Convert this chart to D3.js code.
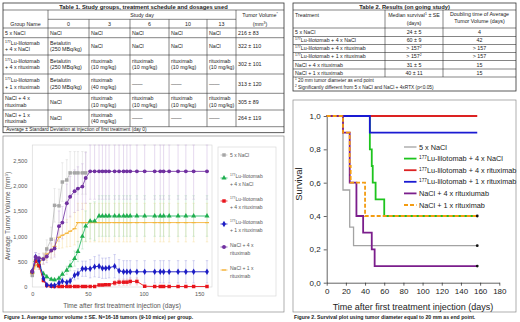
<!DOCTYPE html>
<html>
<head>
<meta charset="utf-8">
<script src="https://cdn.jsdelivr.net/npm/d3@7"></script>
<style>
  body { margin: 0; background: #fff; }
  svg { display: block; }
  text { font-family: "Liberation Sans", Arial, sans-serif; }
</style>
</head>
<body>
<div id="chart"></div>
<script>
// ---- Table 1: groups, schedule, day-0 volume ----
const studyDays = ["0", "3", "6", "10", "13"];
const t1Groups = ["5 x NaCl", "[177]Lu-lilotomab|+ 4 x NaCl", "[177]Lu-lilotomab|+ 4 x rituximab",
  "[177]Lu-lilotomab|+ 1 x rituximab", "NaCl + 4 x|rituximab", "NaCl + 1 x|rituximab"];
const t1Schedule = [
  ["NaCl", "NaCl", "NaCl", "NaCl", "NaCl"],
  ["Betalutin|(250 MBq/kg)", "NaCl", "NaCl", "NaCl", "NaCl"],
  ["Betalutin|(250 MBq/kg)", "rituximab|(10 mg/kg)", "rituximab|(10 mg/kg)", "rituximab|(10 mg/kg)", "rituximab|(10 mg/kg)"],
  ["Betalutin|(250 MBq/kg)", "rituximab|(40 mg/kg)", "——", "——", "——"],
  ["NaCl", "rituximab|(10 mg/kg)", "rituximab|(10 mg/kg)", "rituximab|(10 mg/kg)", "rituximab|(10 mg/kg)"],
  ["NaCl", "rituximab|(40 mg/kg)", "——", "——", "——"]
];
const t1Volume = ["216 ± 83", "322 ± 110", "302 ± 101", "313 ± 120", "305 ± 89", "264 ± 119"];

// ---- Table 2: results ----
const t2Treatment = ["5 x NaCl", "[177]Lu-lilotomab + 4 x NaCl", "[177]Lu-lilotomab  + 4 x rituximab",
  "[177]Lu-lilotomab  + 1 x rituximab", "NaCl + 4 x rituximab", "NaCl + 1 x rituximab"];
const t2Median = ["24 ± 5", "60 ± 9", "> 157[2]", "> 157[2]", "31 ± 5", "40 ± 11"];
const t2Doubling = ["4", "42", "> 157", "> 157", "15", "15"];

// ---- Figure 1: average tumour volume ± SE ----
const volDays = [0,3,6,10,13,17,20,24,27,31,34,38,41,45,48,52,56,60,63,66,69,74,78,82,85,88,94,101,110,115,118,123,131,138,145,157];
const volNaCl   = [230,520,470,560,750,940,1610,1600,2070,2110,2250,2250,2250,2250,2250];
const seNaCl    = [40,90,80,110,180,240,330,330,380,400,420,420,420,420,420];
const volLuNaCl = [300,520,420,260,200,150,140,170,250,330,420,560,700,1000,1200,1300,1300,1400,1400,1400,1400,1400,1400,1400,1400,1400,1400,1400,1400,1400,1400,1400,1400,1400,1400,1400];
const seLuNaCl  = [40,80,70,50,40,30,30,40,60,80,100,150,200,250,300,350,380,400,400,400,400,400,400,400,400,400,400,400,400,400,400,400,400,400,400,400];
const volLuR4   = [302,510,420,130,30,15,10,10,10,10,10,10,10,10,10,10,10,40,40,45,45,80,95,95,95,110,110,15,10,10,10,10,10,10,10,10];
const seLuR4    = [40,80,70,40,10,5,5,5,5,5,5,5,5,5,5,5,5,20,20,20,20,50,60,60,60,70,70,5,5,5,5,5,5,5,5,5];
const volLuR1   = [313,590,520,170,40,30,30,80,115,90,120,230,260,360,360,360,400,410,370,370,380,410,320,300,300,300,300,300,300,300,300,300,300,300,300,300];
const seLuR1    = [40,90,80,50,20,20,20,40,50,50,60,90,100,150,150,180,200,220,200,200,200,230,220,220,220,220,220,220,220,220,220,220,220,220,220,220];
const volNaClR4 = [305,590,570,550,600,720,760,1200,1270,1650,1780,1890,1940,1980,2150,2280,2280,2280,2280,2280,2280,2280,2280,2280,2280,2280,2280,2280,2280,2280,2280,2280,2280,2280,2280,2280];
const seNaClR4  = [40,90,90,100,120,150,170,300,320,380,400,420,430,450,500,550,550,550,550,550,550,550,550,550,550,550,550,550,550,550,550,550,550,550,550,550];
const volNaClR1 = [264,430,480,560,650,700,800,980,1020,1060,1100,1150,1270,1270,1270,1270,1270,1270,1270,1270,1270,1270,1270,1270,1270,1270,1270,1270,1270,1270,1270,1270,1270,1270,1270,1270];
const seNaClR1  = [40,80,90,110,130,150,170,220,250,270,300,320,380,380,380,380,380,380,380,380,380,380,380,380,380,380,380,380,380,380,380,380,380,380,380,380];
const volLegend = ["5 x NaCl", "[177]Lu-lilotomab|+ 4 x NaCl", "[177]Lu-lilotomab|+ 4 x rituximab",
  "[177]Lu-lilotomab|+ 1 x rituximab", "NaCl + 4 x|rituximab", "NaCl + 1 x|rituximab"];
const volTicksY = [0, 500, 1000, 1500, 2000, 2500];
const volTicksX = [0, 50, 100, 150];

// ---- Figure 2: survival (Kaplan–Meier steps) ----
const survTNaCl   = [0, 17, 24, 28, 157];          const survNaCl   = [1, 0.556, 0.333, 0.222, 0.222];
const survTLuNaCl = [0, 45, 47, 48, 51, 60, 157];  const survLuNaCl = [1, 0.8, 0.7, 0.6, 0.5, 0.4, 0.4];
const survTLuR4   = [0, 157];                      const survLuR4   = [1, 1];
const survTLuR1   = [0, 45, 157];                  const survLuR1   = [1, 0.9, 0.9];
const survTNaClR4 = [0, 17, 24, 31, 38, 47, 50, 157]; const survNaClR4 = [1, 0.9, 0.6, 0.4, 0.3, 0.2, 0.1, 0.1];
const survTNaClR1 = [0, 17, 24, 25, 40, 157];      const survNaClR1 = [1, 0.9, 0.7, 0.6, 0.4, 0.4];
const survLegend = ["5 x NaCl", "[177]Lu-lilotomab + 4 x NaCl", "[177]Lu-lilotomab  + 4 x rituximab",
  "[177]Lu-lilotomab  + 1 x rituximab", "NaCl + 4 x rituxiumab", "NaCl + 1 x rituximab"];
const survTicksX = [0, 20, 40, 60, 80, 100, 120, 140, 160, 180];
const survTicksY = [0, 0.2, 0.4, 0.6, 0.8, 1.0];

// ---------------------------------------------------------------
const svg = d3.select("#chart").append("svg").attr("width", 520).attr("height", 322);
const INK = "#222";

// "[177]Lu" -> superscript tspan
function rich(t, s) {
  s.split(/(\[[^\]]+\])/).forEach(p => {
    if (!p) return;
    if (p[0] === "[") t.append("tspan").attr("baseline-shift", "super").attr("font-size", "65%").text(p.slice(1, -1));
    else t.append("tspan").text(p);
  });
}
function cellText(g, x, yc, s, o = {}) {
  const size = o.size || 5.3, lines = s.split("|"), lh = o.lh || size * 1.15;
  lines.forEach((ln, i) => {
    const t = g.append("text").attr("x", x)
      .attr("y", yc + (i - (lines.length - 1) / 2) * lh + size * 0.35)
      .attr("font-size", size).attr("text-anchor", o.anchor || "start")
      .attr("fill", o.fill || INK).attr("font-weight", o.weight || null);
    rich(t, ln);
  });
}
function line(g, x1, y1, x2, y2, c = "#333", w = 0.6) {
  g.append("line").attr("x1", x1).attr("y1", y1).attr("x2", x2).attr("y2", y2)
    .attr("stroke", c).attr("stroke-width", w);
}

// ---- Table 1 ----
(function () {
  const g = svg.append("g");
  const cx = [3, 48, 89, 130, 169, 207, 236, 284];
  const ry = [3, 10, 19.3, 28, 37.7, 55, 74, 93.3, 110, 126.7, 132.7];
  g.append("rect").attr("x", cx[0]).attr("y", ry[0]).attr("width", cx[7] - cx[0]).attr("height", ry[10] - ry[0])
    .attr("fill", "none").attr("stroke", "#333").attr("stroke-width", 0.8);
  [1, 3, 4, 5, 6, 7, 8, 9].forEach(i => line(g, cx[0], ry[i], cx[7], ry[i]));
  line(g, cx[1], ry[2], cx[6], ry[2]);
  [1, 6].forEach(i => line(g, cx[i], ry[1], cx[i], ry[9]));
  [2, 3, 4, 5].forEach(i => line(g, cx[i], ry[2], cx[i], ry[9]));

  cellText(g, (cx[0] + cx[7]) / 2, (ry[0] + ry[1]) / 2, "Table 1. Study groups, treatment schedule and dosages used", { anchor: "middle", size: 5.8, weight: "bold" });
  cellText(g, (cx[1] + cx[6]) / 2, (ry[1] + ry[2]) / 2, "Study day", { anchor: "middle" });
  cellText(g, (cx[0] + cx[1]) / 2, (ry[2] + ry[3]) / 2, "Group Name", { anchor: "middle" });
  studyDays.forEach((d, i) => cellText(g, (cx[i + 1] + cx[i + 2]) / 2, (ry[2] + ry[3]) / 2, d, { anchor: "middle" }));
  cellText(g, (cx[6] + cx[7]) / 2, (ry[1] + ry[2]) / 2, "Tumor Volume[*]", { anchor: "middle" });
  cellText(g, (cx[6] + cx[7]) / 2, (ry[2] + ry[3]) / 2, "(mm[3])", { anchor: "middle" });

  t1Groups.forEach((name, r) => {
    const yc = (ry[r + 3] + ry[r + 4]) / 2;
    cellText(g, cx[0] + 2, yc, name);
    t1Schedule[r].forEach((s, c) => cellText(g, cx[c + 1] + 2, yc, s));
    cellText(g, cx[6] + 2, yc, t1Volume[r]);
  });
  cellText(g, cx[0] + 2, (ry[9] + ry[10]) / 2, "[*]Average ± Standard Deviation at injection of first treatment (day 0)", { size: 4.8 });
})();

// ---- Table 2 ----
(function () {
  const g = svg.append("g");
  const cx = [293, 385, 443, 516];
  const ry = [3, 10, 28, 36.5, 44.5, 52.5, 60.5, 69, 77, 91];
  g.append("rect").attr("x", cx[0]).attr("y", ry[0]).attr("width", cx[3] - cx[0]).attr("height", ry[9] - ry[0])
    .attr("fill", "none").attr("stroke", "#333").attr("stroke-width", 0.8);
  [1, 2, 3, 4, 5, 6, 7, 8].forEach(i => line(g, cx[0], ry[i], cx[3], ry[i]));
  [1, 2].forEach(i => line(g, cx[i], ry[1], cx[i], ry[8]));

  cellText(g, (cx[0] + cx[3]) / 2, (ry[0] + ry[1]) / 2, "Table 2. Results (on going study)", { anchor: "middle", size: 5.8, weight: "bold" });
  cellText(g, cx[0] + 2, 15, "Treatment");
  cellText(g, (cx[1] + cx[2]) / 2, 19, "Median survival[1] ± SE|(days)", { anchor: "middle", lh: 8 });
  cellText(g, (cx[2] + cx[3]) / 2, 17.5, "Doubling time of Average|Tumor Volume (days)", { anchor: "middle", lh: 6.5 });
  t2Treatment.forEach((s, r) => {
    const yc = (ry[r + 2] + ry[r + 3]) / 2;
    cellText(g, cx[0] + 2, yc, s);
    cellText(g, (cx[1] + cx[2]) / 2, yc, t2Median[r], { anchor: "middle" });
    cellText(g, (cx[2] + cx[3]) / 2, yc, t2Doubling[r], { anchor: "middle" });
  });
  cellText(g, cx[0] + 2, 80.5, "[1] 20 mm tumor diameter as end point", { size: 4.8 });
  cellText(g, cx[0] + 2, 87.3, "[2] Significantly different from 5 x NaCl and NaCl + 4xRTX (p<0.05)", { size: 4.8 });
})();

// ---- Figure 1 ----
(function () {
  const g = svg.append("g");
  const GREY = "#595959", F = 5.6;
  g.append("rect").attr("x", 3).attr("y", 136).attr("width", 281).attr("height", 176)
    .attr("fill", "#fff").attr("stroke", "#8c8c8c").attr("stroke-width", 0.7);
  const x = d3.scaleLinear().domain([0, 161.5]).range([32.3, 212]);
  const y = d3.scaleLinear().domain([0, 2800]).range([287, 145]);
  g.append("rect").attr("x", 32.3).attr("y", 145).attr("width", 212 - 32.3).attr("height", 287 - 145)
    .attr("fill", "none").attr("stroke", "#d9d9d9").attr("stroke-width", 0.7);

  const ay = g.append("g").attr("transform", "translate(32.3,0)")
    .call(d3.axisLeft(y).tickValues(volTicksY).tickSize(0).tickPadding(5));
  ay.select(".domain").remove();
  ay.selectAll("text").attr("font-size", F).attr("fill", GREY).attr("font-family", null);
  const ax = g.append("g").attr("transform", "translate(0,287)")
    .call(d3.axisBottom(x).tickValues(volTicksX).tickSize(0).tickPadding(5));
  ax.select(".domain").remove();
  ax.selectAll("text").attr("font-size", F).attr("fill", GREY).attr("font-family", null);

  const tY = g.append("text").attr("transform", "translate(9.5,216) rotate(-90)")
    .attr("text-anchor", "middle").attr("font-size", 6.6).attr("fill", GREY);
  rich(tY, "Average Tumor Volume (mm[3])");
  g.append("text").attr("x", 122).attr("y", 307.5).attr("text-anchor", "middle")
    .attr("font-size", 6.6).attr("fill", GREY).text("Time after first treatment injection (days)");

  const series = [
    { v: volNaCl,   se: seNaCl,   c: "#a6a6a6", lc: "#bdbdbd", ec: "#d6d6d6", m: "square" },
    { v: volNaClR1, se: seNaClR1, c: "#f6b53d", lc: "#f6b53d", ec: "#f6dea0", m: "dash" },
    { v: volLuNaCl, se: seLuNaCl, c: "#1fae4f", lc: "#2cbb6a", ec: "#a6dcb8", m: "triangle" },
    { v: volLuR4,   se: seLuR4,   c: "#e8141c", lc: "#e8141c", ec: "#f3a0a0", m: "square" },
    { v: volLuR1,   se: seLuR1,   c: "#1c1cc4", lc: "#1c1cc4", ec: "#a8a8e4", m: "diamond" },
    { v: volNaClR4, se: seNaClR4, c: "#7030a0", lc: "#7a3ca8", ec: "#cdb4df", m: "circle" }
  ];
  const clipTop = y(2800);
  series.forEach(s => {
    s.v.forEach((v, i) => {
      const px = x(volDays[i]);
      const y1 = Math.max(clipTop, y(v + s.se[i])), y2 = Math.min(287, y(v - s.se[i]));
      line(g, px, y1, px, y2, s.ec, 0.5);
      line(g, px - 1.2, y1, px + 1.2, y1, s.ec, 0.5);
      if (y(v - s.se[i]) < 287) line(g, px - 1.2, y2, px + 1.2, y2, s.ec, 0.5);
    });
  });
  const sym = { square: d3.symbolSquare, triangle: d3.symbolTriangle, diamond: d3.symbolDiamond, circle: d3.symbolCircle };
  function marker(gg, m, px, py, c) {
    if (m === "dash") { line(gg, px - 2, py, px + 2, py, c, 1.2); return; }
    gg.append("path").attr("transform", `translate(${px},${py})`)
      .attr("d", d3.symbol().type(sym[m]).size(m === "triangle" ? 11 : 12)()).attr("fill", c);
  }
  const lineGen = d3.line().x(d => x(d[0])).y(d => y(d[1]));
  series.forEach(s => {
    const pts = s.v.map((v, i) => [volDays[i], v]);
    g.append("path").attr("d", lineGen(pts)).attr("fill", "none").attr("stroke", s.lc).attr("stroke-width", 0.9);
    pts.forEach(p => marker(g, s.m, x(p[0]), y(p[1]), s.c));
  });

  // legend
  g.append("rect").attr("x", 218).attr("y", 147).attr("width", 58).attr("height", 149)
    .attr("fill", "#fff").attr("stroke", "#d9d9d9").attr("stroke-width", 0.7);
  const legOrder = [0, 2, 3, 4, 5, 1];
  const legY = [155, 180, 203, 226, 249, 272];
  volLegend.forEach((lab, i) => {
    const s = series[legOrder[i]], yy = legY[i];
    const nl = lab.split("|").length;
    const my = nl > 1 ? yy - 2 : yy;
    line(g, 220.5, my, 227.5, my, s.lc, 0.8);
    marker(g, s.m, 224, my, s.c);
    cellText(g, 230, yy, lab, { size: 5, lh: 8, fill: GREY });
  });

  g.append("text").attr("x", 4).attr("y", 319).attr("font-size", 5.2).attr("font-weight", "bold").attr("fill", INK)
    .text("Figure 1. Average tumor volume ± SE. N=16-18 tumors (9-10 mice) per group.");
})();

// ---- Figure 2 ----
(function () {
  const g = svg.append("g");
  g.append("rect").attr("x", 293).attr("y", 100).attr("width", 223).attr("height", 212)
    .attr("fill", "#fff").attr("stroke", "#8c8c8c").attr("stroke-width", 0.7);
  const x = d3.scaleLinear().domain([0, 180]).range([326.7, 499.3]);
  const y = d3.scaleLinear().domain([0, 1]).range([282.7, 116]);

  const ax = g.append("g").attr("transform", `translate(0,${y(0)})`)
    .call(d3.axisBottom(x).tickValues(survTicksX).tickSize(3).tickSizeOuter(0).tickPadding(3));
  const ay = g.append("g").attr("transform", `translate(${x(0)},0)`)
    .call(d3.axisLeft(y).tickValues(survTicksY).tickSize(3).tickSizeOuter(0).tickPadding(3)
      .tickFormat(d => d3.format(".1f")(d).replace(".", ",")));
  [ax, ay].forEach(a => {
    a.selectAll("text").attr("font-size", 8).attr("fill", "#222").attr("font-family", null);
    a.selectAll("line,path").attr("stroke", "#222").attr("stroke-width", 0.7);
  });
  g.append("text").attr("transform", "translate(302,184) rotate(-90)").attr("text-anchor", "middle")
    .attr("font-size", 9.4).attr("fill", "#222").text("Survival");
  g.append("text").attr("x", 413).attr("y", 309.5).attr("text-anchor", "middle")
    .attr("font-size", 9).attr("fill", "#222").text("Time after first treatment injection (days)");

  const curves = [
    { t: survTNaCl,   s: survNaCl,   c: "#a3a3a3", w: 1.3, end: true },
    { t: survTLuNaCl, s: survLuNaCl, c: "#1ec41e", w: 1.8 },
    { t: survTLuR4,   s: survLuR4,   c: "#dc2222", w: 1.8 },
    { t: survTLuR1,   s: survLuR1,   c: "#1a1ad2", w: 1.8 },
    { t: survTNaClR4, s: survNaClR4, c: "#7b1e8c", w: 1.8, end: true },
    { t: survTNaClR1, s: survNaClR1, c: "#f39c12", w: 1.8, dash: "4,2", end: true }
  ];
  const step = d3.line().x(d => x(d[0])).y(d => y(d[1])).curve(d3.curveStepAfter);
  curves.forEach(cv => {
    const pts = cv.t.map((t, i) => [t, cv.s[i]]);
    g.append("path").attr("d", step(pts)).attr("fill", "none").attr("stroke", cv.c)
      .attr("stroke-width", cv.w).attr("stroke-dasharray", cv.dash || null);
    if (cv.end) {
      const last = pts[pts.length - 1];
      g.append("circle").attr("cx", x(last[0])).attr("cy", y(last[1])).attr("r", 1.4).attr("fill", "#111");
    }
  });

  survLegend.forEach((lab, i) => {
    const cv = curves[i], yy = 147 + i * 11.6;
    g.append("line").attr("x1", 404).attr("x2", 416.5).attr("y1", yy).attr("y2", yy)
      .attr("stroke", cv.c).attr("stroke-width", cv.w).attr("stroke-dasharray", cv.dash || null);
    cellText(g, 419, yy, lab, { size: 7.3 });
  });

  g.append("text").attr("x", 294).attr("y", 319).attr("font-size", 5.2).attr("font-weight", "bold").attr("fill", INK)
    .text("Figure 2. Survival plot using tumor diameter equal to 20 mm as end point.");
})();
</script>
</body>
</html>
